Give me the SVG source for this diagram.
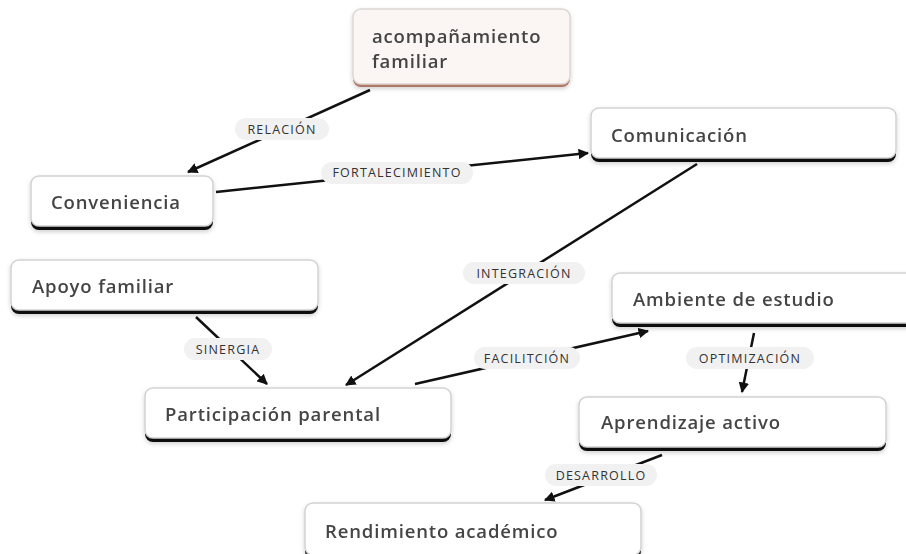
<svg xmlns="http://www.w3.org/2000/svg" width="906" height="554" viewBox="0 0 906 554">
<defs>
<marker id="ah" viewBox="0 0 10 10" refX="9" refY="5" markerWidth="4.2" markerHeight="4.2" orient="auto" markerUnits="strokeWidth">
<path d="M0,0 L10,5 L0,10 z" fill="#111"/>
</marker>
<filter id="sh" x="-10%" y="-20%" width="120%" height="150%">
<feDropShadow dx="0" dy="2" stdDeviation="2" flood-color="#000" flood-opacity="0.18"/>
</filter>
</defs>
<style>
.box{fill:#fff;stroke:#d2d2d2;stroke-width:1.5}
.bar{fill:#111}
.nt{font-family:"Open Sans","Liberation Sans",sans-serif;font-weight:600;font-size:18.5px;letter-spacing:0.85px;fill:#444}
.edge{stroke:#111;stroke-width:2.5;fill:none;marker-end:url(#ah)}
.pill{fill:#f1f1f1}
.lt{font-family:"Open Sans","Liberation Sans",sans-serif;font-size:12.5px;letter-spacing:1.2px;fill:#333;text-anchor:middle}
</style>
<rect width="906" height="554" fill="#fff"/>

<g id="connectors">
<line class="edge" x1="370" y1="90" x2="188" y2="172"/>
<line class="edge" x1="216" y1="192" x2="588" y2="153"/>
<line class="edge" x1="697" y1="164" x2="346" y2="385"/>
<line class="edge" x1="196" y1="317" x2="267" y2="384"/>
<line class="edge" x1="415" y1="384" x2="648" y2="331"/>
<line class="edge" x1="754" y1="333" x2="742" y2="392"/>
<line class="edge" x1="662" y1="455" x2="545" y2="500"/>
<g id="labels">
<rect class="pill" x="235" y="118" width="94" height="22" rx="11"/>
<text class="lt" x="282" y="134">RELACIÓN</text>
<rect class="pill" x="321" y="162" width="152" height="22" rx="11"/>
<text class="lt" x="397" y="177">FORTALECIMIENTO</text>
<rect class="pill" x="463" y="262" width="122" height="22" rx="11"/>
<text class="lt" x="524" y="278">INTEGRACIÓN</text>
<rect class="pill" x="184" y="338" width="88" height="22" rx="11"/>
<text class="lt" x="228" y="354">SINERGIA</text>
<rect class="pill" x="474" y="347" width="106" height="22" rx="11"/>
<text class="lt" x="527" y="363">FACILITCIÓN</text>
<rect class="pill" x="686" y="347" width="128" height="22" rx="11"/>
<text class="lt" x="750" y="363">OPTIMIZACIÓN</text>
<rect class="pill" x="545" y="464" width="112" height="22" rx="11"/>
<text class="lt" x="601" y="480">DESARROLLO</text>
</g>
</g>

<g id="n-acompanamiento" filter="url(#sh)">
<rect x="353" y="12" width="217" height="75" rx="8" fill="#ad7866"/>
<rect x="353" y="9" width="217" height="75" rx="8" fill="#fbf6f4" stroke="#ddd6d3" stroke-width="1.5"/>
<text class="nt" x="372" y="43">acompañamiento</text>
<text class="nt" x="372" y="68">familiar</text>
</g>

<g id="n-conveniencia" filter="url(#sh)">
<rect class="bar" x="31" y="180" width="182" height="50" rx="8"/>
<rect class="box" x="31" y="176" width="182" height="50" rx="8"/>
<text class="nt" x="51" y="209">Conveniencia</text>
</g>

<g id="n-comunicacion" filter="url(#sh)">
<rect class="bar" x="591" y="112" width="305" height="50" rx="8"/>
<rect class="box" x="591" y="108" width="305" height="50" rx="8"/>
<text class="nt" x="611" y="142">Comunicación</text>
</g>

<g id="n-apoyo" filter="url(#sh)">
<rect class="bar" x="11" y="264" width="307" height="50" rx="8"/>
<rect class="box" x="11" y="260" width="307" height="50" rx="8"/>
<text class="nt" x="32" y="293">Apoyo familiar</text>
</g>

<g id="n-participacion" filter="url(#sh)">
<rect class="bar" x="145" y="392" width="306" height="50" rx="8"/>
<rect class="box" x="145" y="388" width="306" height="50" rx="8"/>
<text class="nt" x="165" y="421">Participación parental</text>
</g>

<g id="n-ambiente" filter="url(#sh)">
<rect class="bar" x="612" y="277" width="310" height="50" rx="8"/>
<rect class="box" x="612" y="273" width="310" height="50" rx="8"/>
<text class="nt" x="633" y="306">Ambiente de estudio</text>
</g>

<g id="n-aprendizaje" filter="url(#sh)">
<rect class="bar" x="579" y="401" width="307" height="50" rx="8"/>
<rect class="box" x="579" y="397" width="307" height="50" rx="8"/>
<text class="nt" x="601" y="429">Aprendizaje activo</text>
</g>

<g id="n-rendimiento" filter="url(#sh)">
<rect class="bar" x="305" y="507" width="336" height="52" rx="8"/>
<rect class="box" x="305" y="503" width="336" height="52" rx="8"/>
<text class="nt" x="325" y="538">Rendimiento académico</text>
</g>
</svg>
